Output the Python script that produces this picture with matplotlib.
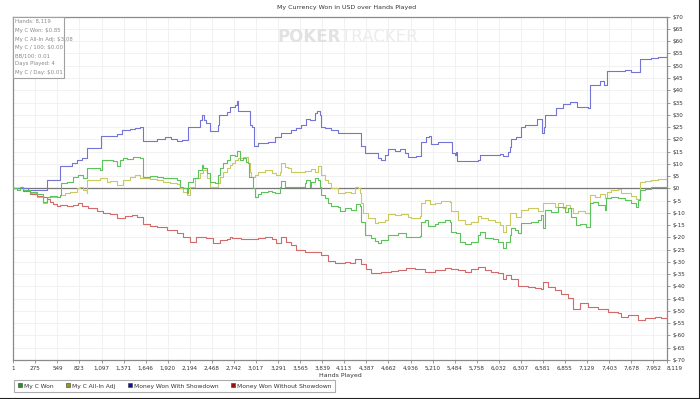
import matplotlib
matplotlib.use("Agg")
import matplotlib.pyplot as plt
from matplotlib.lines import Line2D
from matplotlib.patches import Rectangle

plt.rcParams['font.family'] = ['DejaVu Sans']

title = "My Currency Won in USD over Hands Played"
x_label = "Hands Played"
series_names = ["My C Won", "My C All-In Adj", "Money Won With Showdown", "Money Won Without Showdown"]
info_lines = ["Hands: 8,119", "My C Won: $0.85", "My C All-In Adj: $3.08", "My C / 100: $0.00",
              "BB/100: 0.01", "Days Played: 4", "My C / Day: $0.01"]
x_ticks = [1, 275, 549, 823, 1097, 1371, 1646, 1920, 2194, 2468, 2742, 3017, 3291, 3565, 3839,
           4113, 4387, 4662, 4936, 5210, 5484, 5758, 6032, 6307, 6581, 6855, 7129, 7403, 7678, 7952, 8119]
y_ticks = list(range(-70, 75, 5))

showdown_h = [1, 60, 187, 414, 580, 725, 787, 850, 919, 1085, 1292, 1346, 1450, 1512, 1574, 1607, 1700,
              1781, 1884, 1960, 2029, 2100, 2174, 2280, 2319, 2340, 2373, 2400, 2443, 2547, 2559, 2650,
              2691, 2753, 2786, 2795, 2940, 2968, 2993, 3043, 3167, 3250, 3333, 3457, 3519, 3581, 3643,
              3685, 3747, 3780, 3809, 3830, 3871, 3954, 4037, 4326, 4368, 4533, 4575, 4616, 4658, 4740,
              4803, 4865, 4906, 5000, 5072, 5134, 5163, 5196, 5279, 5403, 5453, 5486, 5507, 5519, 5693,
              5776, 5797, 6045, 6087, 6149, 6169, 6190, 6252, 6314, 6356, 6513, 6575, 6596, 6612, 6749,
              6832, 6915, 7010, 7142, 7171, 7287, 7341, 7382, 7598, 7680, 7784, 7929, 8012, 8053, 8119]
showdown_v = [0, 0.3, -0.7, 3.4, 9.1, 10.2, 11.6, 12.2, 16.6, 21.4, 22.1, 23.8, 24.2, 24.6, 25.2, 19.5,
              19.5, 20.1, 21.0, 20.2, 19.5, 19.7, 24.9, 25.1, 27.9, 29.9, 27.9, 26.5, 23.5, 25.9, 29.9,
              31.3, 33.3, 34.0, 35.8, 31.7, 25.9, 25.2, 17.3, 18.6, 19.0, 20.8, 22.7, 23.8, 24.5, 25.9,
              28.2, 27.9, 30.9, 31.6, 29.9, 24.9, 24.5, 23.8, 22.4, 17.3, 14.3, 12.2, 11.6, 13.6, 15.9,
              15.4, 15.9, 14.3, 12.7, 13.0, 19.0, 21.1, 21.4, 18.2, 18.8, 19.0, 14.3, 13.6, 15.0, 11.2,
              11.0, 11.6, 13.6, 14.0, 13.1, 14.9, 17.0, 20.3, 21.0, 24.9, 25.9, 28.2, 22.4, 24.9, 30.1,
              32.7, 34.5, 35.2, 33.3, 32.7, 42.2, 43.9, 42.2, 47.9, 48.3, 47.6, 52.8, 53.1, 53.4, 53.7,
              54.0]

nonshowdown_h = [1, 83, 125, 207, 290, 373, 414, 456, 497, 539, 580, 663, 746, 808, 849, 932, 1035, 1118,
                 1201, 1284, 1387, 1470, 1532, 1615, 1698, 1781, 1905, 2029, 2112, 2195, 2277, 2401, 2484,
                 2567, 2650, 2691, 2712, 2836, 3043, 3126, 3209, 3271, 3333, 3395, 3457, 3519, 3623, 3705,
                 3830, 3912, 3995, 4119, 4182, 4244, 4326, 4389, 4451, 4575, 4699, 4782, 4885, 4989, 5113,
                 5237, 5361, 5445, 5528, 5610, 5693, 5776, 5859, 5942, 6024, 6087, 6128, 6190, 6273, 6397,
                 6480, 6563, 6583, 6645, 6728, 6811, 6894, 6956, 7018, 7039, 7142, 7266, 7391, 7515, 7556,
                 7639, 7763, 7846, 7970, 8053, 8119]
nonshowdown_v = [0, 0.5, -1.0, -2.3, -3.1, -3.7, -4.5, -5.4, -6.4, -7.2, -6.8, -7.2, -6.8, -6.1, -7.0,
                 -8.2, -9.1, -9.9, -10.5, -12.2, -11.3, -10.9, -11.6, -14.6, -15.4, -15.9, -17.0, -18.4,
                 -19.7, -21.8, -20.0, -20.4, -22.4, -21.1, -20.8, -19.7, -20.4, -20.8, -20.4, -19.7, -20.8,
                 -22.4, -19.7, -21.8, -23.1, -25.2, -25.9, -26.1, -27.2, -29.5, -30.6, -29.9, -30.6, -28.8,
                 -30.9, -33.0, -34.4, -34.0, -33.6, -33.3, -32.4, -33.0, -34.0, -33.3, -32.4, -32.7, -33.3,
                 -34.0, -33.0, -32.0, -33.3, -34.0, -34.7, -37.1, -35.4, -37.1, -39.9, -40.1, -40.7, -41.1,
                 -38.1, -40.1, -41.5, -42.9, -44.9, -49.0, -49.0, -46.9, -48.3, -49.4, -50.3, -51.0, -52.4,
                 -51.7, -53.7, -52.7, -52.4, -53.0, -53.7]

won_h = [1, 42, 83, 125, 207, 290, 373, 414, 456, 539, 580, 588, 663, 746, 808, 870, 911, 919, 994, 1077,
         1098, 1160, 1242, 1284, 1325, 1367, 1408, 1491, 1532, 1574, 1607, 1698, 1781, 1863, 1946, 2029,
         2070, 2112, 2153, 2174, 2236, 2298, 2340, 2360, 2402, 2443, 2505, 2547, 2567, 2609, 2650, 2691,
         2712, 2753, 2786, 2815, 2857, 2898, 2919, 2927, 2981, 3002, 3043, 3084, 3167, 3209, 3250, 3312,
         3333, 3374, 3540, 3623, 3643, 3685, 3705, 3747, 3788, 3809, 3830, 3871, 3912, 3954, 4037, 4057,
         4119, 4202, 4264, 4306, 4326, 4368, 4451, 4492, 4533, 4575, 4658, 4782, 4885, 4947, 5051, 5072,
         5113, 5154, 5237, 5279, 5361, 5424, 5437, 5507, 5548, 5610, 5693, 5776, 5797, 5859, 5962, 6024,
         6087, 6128, 6169, 6190, 6231, 6273, 6314, 6438, 6521, 6563, 6583, 6604, 6687, 6770, 6852, 6894,
         6935, 6997, 7039, 7122, 7163, 7171, 7204, 7266, 7349, 7370, 7432, 7515, 7598, 7680, 7742, 7763,
         7784, 7846, 7929, 8012, 8119]
won_v = [0, -0.7, 0.7, -0.7, -1.4, -2.3, -5.4, -3.4, -3.1, -3.4, -2.7, 2.3, 2.7, 4.5, 5.4, 4.1, 4.8, 8.4,
         8.2, 7.6, 11.6, 11.4, 11.0, 9.1, 11.4, 12.5, 11.8, 12.7, 12.9, 12.2, 4.8, 5.0, 4.8, 4.1, 4.1, 3.4,
         0.7, 0.0, -2.0, 2.7, 4.1, 7.5, 9.5, 8.2, 6.1, 2.7, 2.0, 5.4, 8.2, 10.2, 11.6, 13.6, 13.6, 13.2,
         15.4, 11.6, 12.2, 10.9, 10.2, 4.8, 0.0, -3.4, -2.3, -1.4, -1.0, -1.4, -2.0, 0.7, 3.1, 0.7, 0.4,
         2.0, 3.4, 0.7, 2.7, 4.1, 3.4, 0.7, -2.7, -4.1, -6.1, -7.1, -7.5, -9.1, -8.2, -8.8, -6.4, -7.2,
         -13.6, -19.0, -20.4, -21.4, -22.4, -21.1, -19.0, -18.4, -20.0, -19.7, -19.5, -13.6, -12.9, -15.4,
         -14.6, -13.6, -12.9, -13.6, -17.7, -18.4, -21.8, -22.7, -21.8, -19.0, -17.7, -20.4, -20.8, -21.8,
         -24.5, -21.8, -19.0, -16.3, -17.0, -18.4, -14.3, -13.6, -12.9, -10.9, -16.3, -8.8, -9.5, -7.5,
         -9.5, -8.2, -11.6, -15.0, -14.6, -15.6, -15.0, -6.1, -5.4, -6.8, -8.8, -4.1, -3.4, -4.1, -4.8,
         -6.1, -7.5, -4.8, -0.7, -0.3, 0.4, 0.7, 0.85]

allin_h = [1, 125, 207, 290, 373, 414, 497, 580, 642, 704, 787, 828, 870, 911, 919, 994, 1077, 1160, 1201,
           1284, 1367, 1449, 1512, 1574, 1698, 1781, 1863, 1946, 2029, 2070, 2112, 2153, 2195, 2257, 2319,
           2360, 2402, 2443, 2547, 2567, 2609, 2650, 2691, 2712, 2753, 2795, 2857, 2898, 2919, 2940, 2960,
           3002, 3043, 3126, 3209, 3271, 3312, 3333, 3374, 3416, 3457, 3623, 3705, 3747, 3788, 3830, 3871,
           3912, 3954, 4037, 4119, 4202, 4244, 4285, 4306, 4326, 4347, 4409, 4492, 4533, 4616, 4658, 4740,
           4823, 4906, 4947, 5051, 5072, 5113, 5175, 5237, 5320, 5424, 5437, 5528, 5610, 5693, 5776, 5817,
           5900, 5983, 6045, 6087, 6128, 6169, 6231, 6252, 6314, 6397, 6521, 6583, 6645, 6728, 6770, 6832,
           6873, 6915, 6956, 7018, 7101, 7163, 7171, 7225, 7287, 7349, 7382, 7432, 7515, 7556, 7680, 7742,
           7784, 7846, 7929, 8012, 8074, 8119]
allin_v = [0, -1.0, -2.0, -3.4, -5.8, -3.7, -3.4, -2.7, -2.0, -1.4, 0.0, 0.7, -0.7, -2.0, 3.4, 3.4, 4.1,
           2.7, 3.2, 1.4, 3.4, 4.8, 5.4, 4.1, 3.8, 3.4, 2.7, 2.0, 1.8, 0.0, -1.4, -2.7, 0.7, 4.1, 6.1, 7.5,
           4.1, 0.7, 2.0, 4.8, 6.8, 8.2, 9.6, 10.2, 11.6, 12.2, 12.7, 12.9, 10.2, 6.8, 4.8, 5.4, 6.8, 7.5,
           6.4, 5.4, 6.8, 10.5, 8.8, 8.2, 6.8, 7.2, 7.8, 6.8, 9.1, 5.4, 3.4, 2.0, 0.0, -2.0, -1.4, -1.8, 0.7,
           0.0, -2.0, -6.1, -10.2, -12.2, -14.3, -13.6, -13.0, -10.5, -10.9, -10.5, -11.6, -12.2, -11.3,
           -6.1, -4.8, -6.4, -6.1, -5.0, -5.4, -9.3, -12.9, -14.6, -13.6, -11.3, -12.2, -12.9, -13.6, -15.0,
           -17.7, -14.8, -10.2, -9.9, -11.5, -8.8, -8.2, -9.1, -5.8, -6.0, -7.5, -6.1, -8.2, -6.8, -8.2,
           -10.2, -9.1, -9.9, -10.9, -2.7, -3.4, -2.3, -4.1, -1.4, -0.7, -0.4, -2.0, -3.1, -4.5, 2.7, 3.1,
           3.4, 3.7, 3.7, 3.08]

line_colors = ['#5cc25c', '#c9c960', '#7474d6', '#d26a6a']
legend_colors = ['#1d9a1d', '#9a9a10', '#10109a', '#9a1010']

W, H = 700, 399
fig = plt.figure(figsize=(W / 100, H / 100), dpi=100)
fig.patch.set_facecolor('white')
ax_l, ax_r, ax_t, ax_b = 13.3, 666.7, 16.7, 360.0
ax = fig.add_axes([ax_l / W, 1 - ax_b / H, (ax_r - ax_l) / W, (ax_b - ax_t) / H])

lw = 0.8
ax.plot(allin_h, allin_v, drawstyle='steps-post', color=line_colors[1], lw=lw, zorder=3)
ax.plot(won_h, won_v, drawstyle='steps-post', color=line_colors[0], lw=lw, zorder=4)
ax.plot(nonshowdown_h, nonshowdown_v, drawstyle='steps-post', color=line_colors[3], lw=lw, zorder=3)
ax.plot(showdown_h, showdown_v, drawstyle='steps-post', color=line_colors[2], lw=lw, zorder=3)
ax.axhline(0, color='#777777', lw=0.9, zorder=2)

ax.set_xlim(1, 8119)
ax.set_ylim(-70, 70)
ax.set_xticks(x_ticks)
ax.set_xticklabels([f"{t:,}" for t in x_ticks])
ax.set_yticks(y_ticks)
ax.set_yticklabels([f"${t}" for t in y_ticks])
ax.yaxis.tick_right()
ax.tick_params(axis='both', labelsize=4.1, colors='#333333', length=2.5, width=0.6, direction='out', pad=1.5)
ax.tick_params(axis='both', color='#888888')
xt = ax.get_xticklabels()
xt[-1].set_horizontalalignment('left')
ax.grid(True, color='#efefef', lw=0.6, zorder=0)
for s in ax.spines.values():
    s.set_color('#8a8a8a')
    s.set_linewidth(0.9)

ax.set_xlabel(x_label, fontsize=4.5, color='#333333', labelpad=1.5)
fig.text(347 / W, 1 - 8 / H, title, ha='center', va='center', fontsize=4.5, color='#333333')

# watermark
fig.text(341 / W, 1 - 37 / H, "POKER", ha='right', va='center', fontsize=12, fontweight='bold',
         color='#e2e2e2', zorder=0)
fig.text(341 / W, 1 - 37 / H, "TRACKER", ha='left', va='center', fontsize=12, color='#ececec', zorder=0)

# info box
box_w = (64 - ax_l) / (ax_r - ax_l)
box_h = (78 - ax_t) / (ax_b - ax_t)
ax.add_patch(Rectangle((0, 1 - box_h), box_w, box_h, transform=ax.transAxes, facecolor='white',
                       edgecolor='#a0a0a0', lw=0.8, zorder=5, clip_on=False))
line_ys = [21.7, 30.3, 39.0, 47.3, 55.5, 64.0, 72.7]
for txt, yy in zip(info_lines, line_ys):
    fig.text(14.8 / W, 1 - yy / H, txt, ha='left', va='center', fontsize=3.9, color='#8a8a8a', zorder=6)

# legend
handles = [Line2D([], [], marker='s', linestyle='none', markersize=3.2, markerfacecolor=c,
                  markeredgecolor='#333333', markeredgewidth=0.4) for c in legend_colors]
leg = fig.legend(handles, series_names, loc='lower left', bbox_to_anchor=(13.5 / W, 1 - 391.5 / H),
                 ncol=4, fontsize=4.3, frameon=True, fancybox=False, borderpad=0.5, handletextpad=0.1,
                 columnspacing=1.8, handlelength=1.2, borderaxespad=0)
leg.get_frame().set_edgecolor('#999999')
leg.get_frame().set_linewidth(0.8)
for t in leg.get_texts():
    t.set_color('#333333')

# figure border on right and bottom
fig.add_artist(Line2D([0, 1], [0.5 / H, 0.5 / H], transform=fig.transFigure, color='#222222', lw=1.5))
fig.add_artist(Line2D([1 - 0.5 / W, 1 - 0.5 / W], [0, 1], transform=fig.transFigure, color='#222222', lw=1.5))

fig.savefig("out.png", dpi=100)
